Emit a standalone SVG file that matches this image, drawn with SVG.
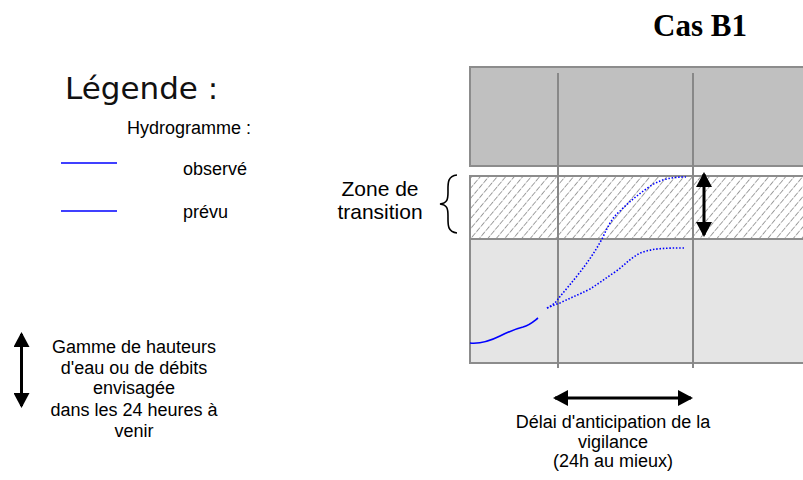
<svg xmlns="http://www.w3.org/2000/svg" width="803" height="480" viewBox="0 0 803 480">
<style>
.t{font-family:"Liberation Sans",Arial,sans-serif;font-size:18px;fill:#000}
.c{text-anchor:middle}
.zone{stroke:#8c8c8c;stroke-width:2}
.grid{stroke:#888;stroke-width:2;fill:none}
.obs{stroke:#0000ff;stroke-width:1.6;fill:none}
.prev{stroke:#0000ff;stroke-width:1.6;fill:none;stroke-dasharray:1.5 1.8}
.arr{stroke:#000;stroke-width:3;fill:none;marker-start:url(#ah);marker-end:url(#ah)}
</style>
<defs>
<pattern id="hatch" patternUnits="userSpaceOnUse" width="6.5" height="7" patternTransform="rotate(40)">
<line x1="0" y1="0" x2="0" y2="7" stroke="#8a8a8a" stroke-width="1.6" stroke-dasharray="4.5 1.2"/>
</pattern>
<marker id="ah" viewBox="0 0 15 16" markerUnits="userSpaceOnUse" markerWidth="15" markerHeight="16" refX="13" refY="8" orient="auto-start-reverse">
<path d="M0,0 L15,8 L0,16 Z" fill="#000"/>
</marker>
</defs>
<rect width="803" height="480" fill="#fff"/>
<g id="title"><text x="700" y="36" font-family="Liberation Serif,Times New Roman,serif" font-weight="bold" font-size="31" text-anchor="middle">Cas B1</text></g>
<g id="zone-haute"><rect class="zone" x="470" y="67" width="345" height="99" fill="#c0c0c0"/></g>
<g id="zone-transition"><rect x="470" y="176" width="345" height="63" fill="#fff"/><rect class="zone" x="470" y="176" width="345" height="63" fill="url(#hatch)"/></g>
<g id="zone-basse"><rect class="zone" x="470" y="239" width="345" height="124" fill="#e5e5e5"/></g>
<g id="grid"><line class="grid" x1="558" y1="73" x2="558" y2="368"/><line class="grid" x1="693" y1="73" x2="693" y2="368"/></g>
<g id="hydrogrammes">
<path class="obs" d="M470,343 C480,344 490,341 500,336 C508,332 515,329 523,327 C530,325 534,321 538,318"/>
<path class="prev" d="M547,308 C551,306 556,303 558,299 C572,282 590,262 603,237 C608,226 612,218 620,211 C630,201 640,193 652,185 C662,179 672,177 686,177"/>
<path class="prev" d="M547,308 C552,306 556,304 560,303 C570,298 578,295 590,289 C598,284 606,278 615,272 C625,265 632,256 643,252 C655,248 668,248 684,248"/>
</g>
<g id="legende">
<text x="65" y="99" font-family="DejaVu Sans,sans-serif" font-weight="normal" font-size="31" fill="#111">Légende :</text>
<text class="t" x="127" y="134">Hydrogramme :</text>
<line x1="61" y1="163" x2="117" y2="163" stroke="#0000ff" stroke-width="1.5"/>
<text class="t" x="183" y="175">observé</text>
<line x1="61" y1="211" x2="117" y2="211" stroke="#0000ff" stroke-width="1.5"/>
<text class="t" x="183" y="218">prévu</text>
</g>
<g id="label-transition">
<text class="t c" x="380" y="196" style="font-size:21px">Zone de</text>
<text class="t c" x="380" y="219" style="font-size:21px">transition</text>
<path d="M457,175 C447,176 448,184 448,192 C448,200 447,203 440,204 C447,205 448,208 448,216 C448,224 447,232 457,233" fill="none" stroke="#000" stroke-width="1.6"/>
</g>
<g id="connectors">
<line class="arr" x1="704" y1="174" x2="704" y2="235"/>
<line class="arr" x1="21.5" y1="334" x2="21.5" y2="406"/>
<line class="arr" x1="555" y1="398" x2="691" y2="398"/>
</g>
<g id="label-gamme">
<text class="t c" x="134" y="353">Gamme de hauteurs</text>
<text class="t c" x="134" y="374">d'eau ou de débits</text>
<text class="t c" x="134" y="394">envisagée</text>
<text class="t c" x="134" y="416">dans les 24 heures à</text>
<text class="t c" x="134" y="437">venir</text>
</g>
<g id="label-delai">
<text class="t c" x="613" y="428">Délai d'anticipation de la</text>
<text class="t c" x="613" y="448">vigilance</text>
<text class="t c" x="613" y="467">(24h au mieux)</text>
</g>
</svg>
